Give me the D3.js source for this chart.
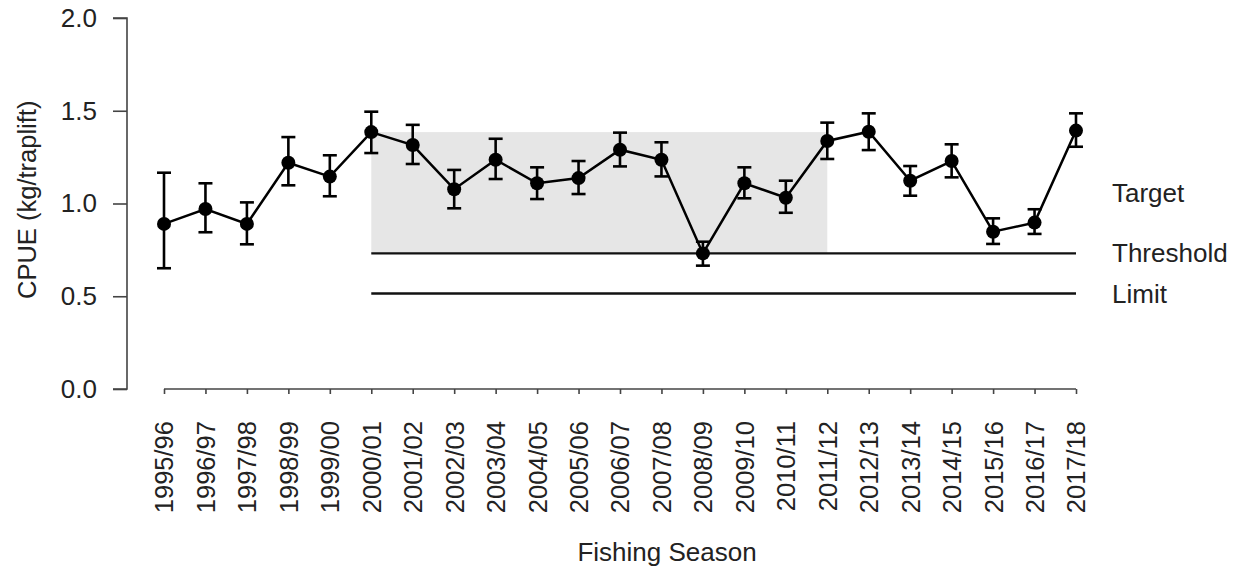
<!DOCTYPE html>
<html lang="en">
<head>
  <meta charset="UTF-8">
  <title>CPUE by Fishing Season</title>
  <script src="https://d3js.org/d3.v7.min.js"></script>
  <style>
    body
    {
      margin: 0;
      background-color: #ffffff;
    }

    svg
    {
      font-family: "Liberation Sans", Arial, sans-serif;
      display: block;
    }
  </style>
</head>
<body>
  <svg width="1238" height="572"></svg>
  <script>
    // data
    const seasons = ["1995/96", "1996/97", "1997/98", "1998/99", "1999/00", "2000/01", "2001/02",
      "2002/03", "2003/04", "2004/05", "2005/06", "2006/07", "2007/08", "2008/09", "2009/10",
      "2010/11", "2011/12", "2012/13", "2013/14", "2014/15", "2015/16", "2016/17", "2017/18"];
    const cpue = [0.89, 0.97, 0.89, 1.22, 1.145, 1.385, 1.315, 1.077, 1.236, 1.109, 1.137, 1.29,
      1.236, 0.731, 1.109, 1.031, 1.337, 1.387, 1.123, 1.229, 0.848, 0.897, 1.393];
    const upper = [1.166, 1.109, 1.006, 1.358, 1.26, 1.495, 1.424, 1.181, 1.349, 1.195, 1.229, 1.382,
      1.33, 0.794, 1.195, 1.123, 1.436, 1.486, 1.202, 1.319, 0.92, 0.969, 1.486];
    const lower = [0.651, 0.845, 0.78, 1.098, 1.039, 1.272, 1.213, 0.974, 1.132, 1.024, 1.051, 1.2,
      1.146, 0.665, 1.028, 0.95, 1.24, 1.288, 1.042, 1.141, 0.782, 0.836, 1.306];
    const yTicks = [0, 0.5, 1.0, 1.5, 2.0];

    // reference points (shaded band = 2000/01 .. 2011/12)
    const bandStart = "2000/01";
    const bandEnd = "2011/12";
    const bandTop = 1.385;
    const threshold = 0.731;
    const limit = 0.515;
    const targetLabelAt = 1.055;

    const fontSize = 26;

    const svg = d3.select("svg");
    const x = d3.scalePoint().domain(seasons).range([164, 1076]);
    const y = d3.scaleLinear().domain([0, 2]).range([389, 18]);

    const data = seasons.map((s, i) => ({ season: s, v: cpue[i], hi: upper[i], lo: lower[i] }));

    // shaded target band
    svg.append("rect")
      .attr("x", x(bandStart))
      .attr("y", y(bandTop))
      .attr("width", x(bandEnd) - x(bandStart))
      .attr("height", y(threshold) - y(bandTop))
      .attr("fill", "#e6e6e6");

    // reference lines
    [threshold, limit].forEach(v => {
      svg.append("line")
        .attr("x1", x(bandStart)).attr("x2", x(seasons[seasons.length - 1]))
        .attr("y1", y(v)).attr("y2", y(v))
        .attr("stroke", "#111").attr("stroke-width", 2.4);
    });

    const refLabels = [["Target", targetLabelAt], ["Threshold", threshold], ["Limit", limit]];
    svg.selectAll("text.ref")
      .data(refLabels)
      .join("text")
      .attr("class", "ref")
      .attr("x", 1112)
      .attr("y", d => y(d[1]))
      .attr("dy", "0.35em")
      .attr("font-size", fontSize)
      .attr("fill", "#222")
      .text(d => d[0]);

    // axes
    const yAxis = d3.axisLeft(y).tickValues(yTicks).tickFormat(d3.format(".1f")).tickSize(14).tickPadding(16);
    const gy = svg.append("g").attr("transform", "translate(127,0)").call(yAxis);
    gy.select(".domain").attr("d", `M-14,${y(2)}H0V${y(0)}H-14`);

    const xAxis = d3.axisBottom(x).tickSize(5).tickPadding(0);
    const gx = svg.append("g").attr("transform", "translate(0,389)").call(xAxis);
    gx.select(".domain").attr("d", `M${x(seasons[0])},0H${x(seasons[seasons.length - 1])}`);

    [gx, gy].forEach(g => {
      g.attr("font-family", null).attr("font-size", fontSize);
      g.selectAll("path, line").attr("stroke", "#444").attr("stroke-width", 1.6);
      g.selectAll("text").attr("fill", "#222");
    });

    gx.selectAll(".tick text")
      .attr("transform", "rotate(-90)")
      .attr("text-anchor", "end")
      .attr("font-size", 25.5)
      .attr("x", -32)
      .attr("y", 0)
      .attr("dy", "0.35em");

    // axis titles
    svg.append("text")
      .attr("transform", `translate(36,${y(1.02)}) rotate(-90)`)
      .attr("text-anchor", "middle")
      .attr("font-size", 25.5)
      .attr("fill", "#222")
      .text("CPUE (kg/traplift)");

    svg.append("text")
      .attr("x", 667)
      .attr("y", 561)
      .attr("text-anchor", "middle")
      .attr("font-size", fontSize)
      .attr("fill", "#222")
      .text("Fishing Season");

    // error bars
    const eb = svg.append("g").attr("stroke", "#000").attr("stroke-width", 2.6);
    data.forEach(d => {
      const cx = x(d.season);
      eb.append("line").attr("x1", cx).attr("x2", cx).attr("y1", y(d.lo)).attr("y2", y(d.hi));
      eb.append("line").attr("x1", cx - 7).attr("x2", cx + 7).attr("y1", y(d.lo)).attr("y2", y(d.lo));
      eb.append("line").attr("x1", cx - 7).attr("x2", cx + 7).attr("y1", y(d.hi)).attr("y2", y(d.hi));
    });

    // series line and points
    svg.append("path")
      .datum(data)
      .attr("fill", "none")
      .attr("stroke", "#000")
      .attr("stroke-width", 2.5)
      .attr("d", d3.line().x(d => x(d.season)).y(d => y(d.v)));

    svg.selectAll("circle.pt")
      .data(data)
      .join("circle")
      .attr("class", "pt")
      .attr("cx", d => x(d.season))
      .attr("cy", d => y(d.v))
      .attr("r", 7)
      .attr("fill", "#000");
  </script>
</body>
</html>
